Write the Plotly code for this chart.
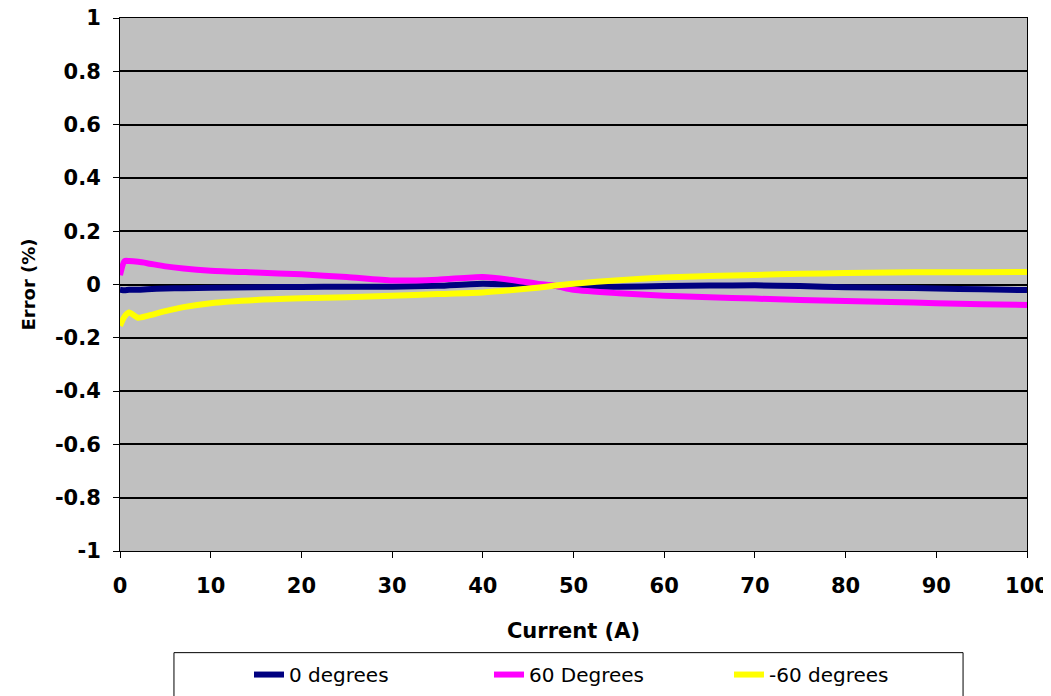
import plotly.graph_objects as go

# current (A) sample points and error (%)
current = [0, 0.5, 1, 2, 3, 5, 7, 10, 15, 20, 25, 30, 35, 40, 43, 46, 48, 50, 55, 60, 65, 70, 75, 80, 85, 90, 95, 100]

err_0deg = [-0.02, -0.022, -0.02, -0.02, -0.018, -0.015, -0.014, -0.012, -0.01, -0.009, -0.008, -0.008, -0.005, 0.003, 0.0,
            -0.004, -0.006, -0.008, -0.008, -0.006, -0.004, -0.003, -0.006, -0.01, -0.012, -0.015, -0.018, -0.021]
err_60deg = [0.035, 0.088, 0.088, 0.085, 0.08, 0.068, 0.06, 0.052, 0.045, 0.038, 0.028, 0.015, 0.018, 0.028, 0.018,
             0.003, -0.005, -0.02, -0.033, -0.042, -0.048, -0.053, -0.058, -0.062, -0.066, -0.07, -0.074, -0.077]
err_m60deg = [-0.155, -0.12, -0.105, -0.125, -0.118, -0.1, -0.085, -0.07, -0.058, -0.052, -0.048, -0.042, -0.036, -0.03, -0.022,
              -0.012, -0.004, 0.003, 0.016, 0.026, 0.032, 0.036, 0.04, 0.043, 0.045, 0.046, 0.046, 0.047]

y_ticks = [-1, -0.8, -0.6, -0.4, -0.2, 0, 0.2, 0.4, 0.6, 0.8, 1]
y_ticklabels = ["-1", "-0.8", "-0.6", "-0.4", "-0.2", "0", "0.2", "0.4", "0.6", "0.8", "1"]

series = [("0 degrees", err_0deg, "#000080"),
          ("60 Degrees", err_60deg, "#FF00FF"),
          ("-60 degrees", err_m60deg, "#FFFF00")]

fig = go.Figure()
for name, vals, col in series:
    fig.add_trace(go.Scatter(x=current, y=vals, mode="lines", name=name,
                             line=dict(color=col, width=6, shape="spline", smoothing=0.6)))

tickfont = dict(family="DejaVu Sans", size=21, color="black", weight="bold")

# legend frame (Excel style box, wider than the entries)
fig.add_shape(type="rect", xref="paper", yref="paper", x0=0.0595, x1=0.9295, y0=-0.3, y1=-0.1907,
              line=dict(color="black", width=1), fillcolor="white", layer="below")

# page has an 8px body margin, so margins are shifted by 8px
fig.update_layout(
    width=1051, height=696,
    margin=dict(l=112, r=32, t=10, b=151),
    plot_bgcolor="#C0C0C0",
    paper_bgcolor="white",
    font=dict(family="DejaVu Sans", color="black"),
    xaxis=dict(range=[0, 100], dtick=10, showgrid=False, zeroline=False, automargin=False,
               showline=True, linecolor="black", linewidth=1, mirror=True, ticklabeloverflow="allow",
               ticks="outside", ticklen=6, tickcolor="black", tickfont=tickfont, ticklabelstandoff=10,
               title=dict(text="Current (A)", font=dict(size=21, weight="bold"), standoff=26)),
    yaxis=dict(range=[-1, 1], tickvals=y_ticks, ticktext=y_ticklabels, showgrid=True, gridcolor="black", gridwidth=1.5,
               zeroline=True, zerolinecolor="black", zerolinewidth=1.5, automargin=False,
               showline=True, linecolor="black", linewidth=1, mirror=True, ticklabeloverflow="allow",
               ticks="outside", ticklen=6, tickcolor="black", tickfont=tickfont, ticklabelstandoff=8,
               title=dict(text="Error (%)", font=dict(size=18, weight="bold"), standoff=14)),
    legend=dict(orientation="h", x=0.1422, xanchor="left", y=-0.2318, yanchor="middle",
                borderwidth=0, bgcolor="rgba(0,0,0,0)",
                font=dict(family="DejaVu Sans", size=20),
                entrywidth=195, entrywidthmode="pixels"),
)

fig.write_html("out.html")
